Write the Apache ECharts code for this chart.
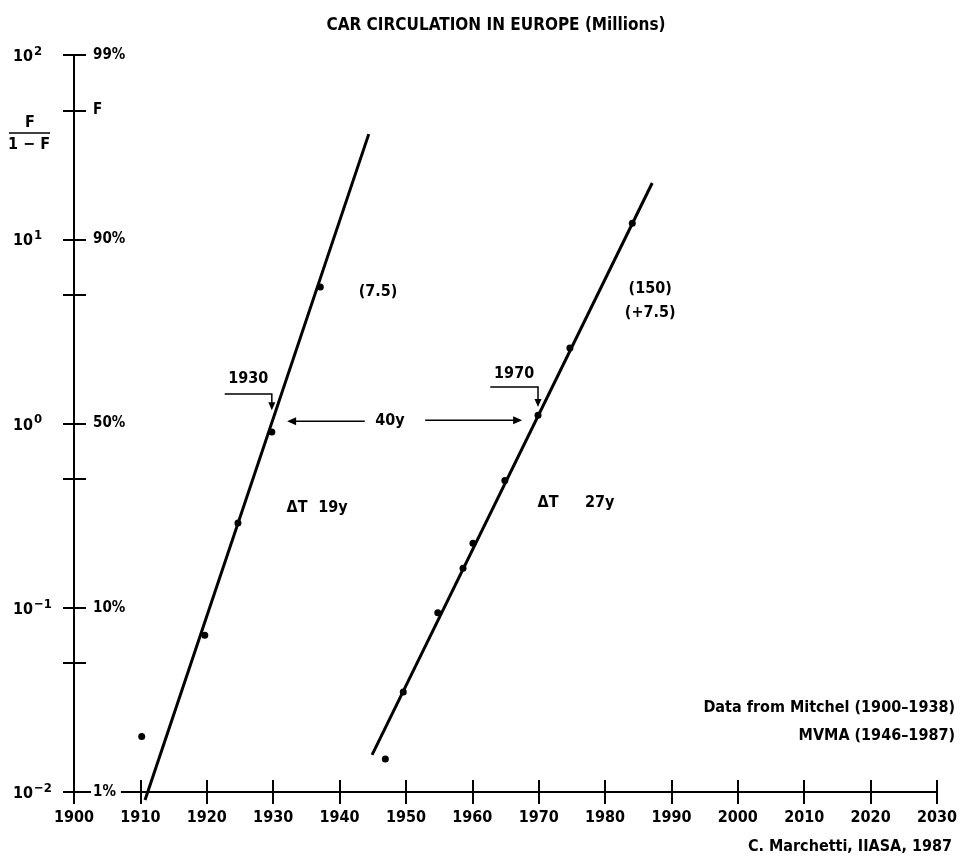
<!DOCTYPE html>
<html><head><meta charset="utf-8">
<script src="https://cdn.jsdelivr.net/npm/echarts@6/dist/echarts.min.js"></script>
<style>html,body{margin:0;padding:0;background:#fff}#c{width:962px;height:864px}</style>
</head><body><div id="c"></div>
<script>
// ---- data ----
const xMin = 1900, xMax = 2030, xStep = 10;
const yTickValues = [0.01, 0.05, 0.1, 0.5, 1, 5, 10, 50, 100];
const leftLabelValues = [0.01, 0.1, 1, 10, 100];
const rightLabelValues = [0.01, 0.1, 1, 10, 50, 100];
const rightLabelTexts = ['1%', '10%', '50%', '90%', 'F', '99%'];

// Europe, first wave (Mitchel 1900-1938)
const earlyYears = [1910.2, 1919.7, 1924.7, 1929.8, 1937.1];
const earlyValues = [0.020, 0.071, 0.288, 0.90, 5.5];
// Europe, second wave (MVMA 1946-1987)
const lateYears = [1946.9, 1949.6, 1954.8, 1958.6, 1960.1, 1964.9, 1969.9, 1974.7, 1984.1];
const lateValues = [0.0151, 0.0349, 0.094, 0.164, 0.224, 0.49, 1.11, 2.57, 12.2];

// Fitted logistic (straight lines in Fisher-Pry transform)
const fitEarlyYears = [1910.7, 1944.4];
const fitEarlyValues = [0.00906, 37.2];
const fitLateYears = [1944.9, 1987.1];
const fitLateValues = [0.0159, 20.2];

const FONT = "'Liberation Sans Narrow', 'DejaVu Sans Condensed', 'Liberation Sans', Arial, sans-serif";

const zip = (a, b) => a.map((v, i) => [v, b[i]]);

const chart = echarts.init(document.getElementById('c'), null, {renderer: 'canvas'});

const axisLineStyle = {color: '#000', width: 2};
const option = {
  backgroundColor: '#fff',
  animation: false,
  title: {
    text: 'CAR CIRCULATION IN EUROPE (Millions)',
    left: 491, top: 12, textAlign: 'center',
    textStyle: {fontFamily: FONT, fontWeight: 'bold', fontSize: 17, color: '#000'}
  },
  grid: {left: 74, right: 25, top: 55, bottom: 72, containLabel: false},
  xAxis: [
    {
      type: 'value', min: xMin, max: xMax, interval: xStep, position: 'bottom',
      axisLine: {show: true, lineStyle: axisLineStyle},
      axisTick: {show: true, length: 12, lineStyle: {color: '#000', width: 2}},
      axisLabel: {margin: 18, color: '#000', fontFamily: FONT, fontWeight: 'bold', fontSize: 16,
        formatter: v => String(v)},
      splitLine: {show: false}
    },
    {
      type: 'value', min: xMin, max: xMax, interval: xStep, position: 'bottom',
      axisLine: {show: false},
      axisTick: {show: true, inside: true, length: 12, lineStyle: {color: '#000', width: 2}},
      axisLabel: {show: false},
      splitLine: {show: false}
    }
  ],
  yAxis: [
    {
      type: 'log', logBase: 10, min: 0.01, max: 100, position: 'left',
      axisLine: {show: true, lineStyle: axisLineStyle},
      axisTick: {show: true, length: 11, customValues: yTickValues, lineStyle: {color: '#000', width: 2}},
      axisLabel: {
        customValues: leftLabelValues, margin: 61, align: 'left', color: '#000',
        formatter: v => '{b|10}{s|' + String(Math.round(Math.log10(v))).replace('-', '\u2212') + '}',
        rich: {
          b: {fontFamily: FONT, fontWeight: 'bold', fontSize: 16, color: '#000', verticalAlign: 'bottom', lineHeight: 20},
          s: {fontFamily: FONT, fontWeight: 'bold', fontSize: 13, color: '#000', verticalAlign: 'top', lineHeight: 20, padding: [0, 0, 7, 1]}
        }
      },
      splitLine: {show: false}
    },
    {
      type: 'log', logBase: 10, min: 0.01, max: 100, position: 'left', z: 5,
      axisLine: {show: false},
      axisTick: {show: true, inside: true, length: 12, customValues: yTickValues, lineStyle: {color: '#000', width: 2}},
      axisLabel: {
        inside: true, customValues: rightLabelValues, margin: 17, color: '#000',
        fontFamily: FONT, fontWeight: 'bold', fontSize: 15,
        backgroundColor: '#fff', padding: [2, 5, 2, 2],
        formatter: v => {
          const i = rightLabelValues.findIndex(r => Math.abs(Math.log10(r) - Math.log10(v)) < 1e-6);
          return i >= 0 ? rightLabelTexts[i] : '';
        }
      },
      splitLine: {show: false}
    }
  ],
  series: [
    {type: 'line', data: zip(fitEarlyYears, fitEarlyValues), symbol: 'none', clip: false,
      lineStyle: {color: '#000', width: 3}},
    {type: 'line', data: zip(fitLateYears, fitLateValues), symbol: 'none', clip: false,
      lineStyle: {color: '#000', width: 3}},
    {type: 'scatter', data: zip(earlyYears, earlyValues), symbol: 'circle', symbolSize: 7,
      itemStyle: {color: '#000', opacity: 1}},
    {type: 'scatter', data: zip(lateYears, lateValues), symbol: 'circle', symbolSize: 7,
      itemStyle: {color: '#000', opacity: 1}}
  ]
};
chart.setOption(option);

// ---- annotations, placed in data space ----
const P = (yr, v) => chart.convertToPixel({xAxisIndex: 0, yAxisIndex: 0}, [yr, v]);
const txtStyle = (extra) => Object.assign({fill: '#000', font: 'bold 16px ' + FONT, align: 'center', verticalAlign: 'middle'}, extra || {});
const g = [];
function text(str, yr, v, extra) {
  const p = P(yr, v);
  g.push({type: 'text', x: p[0], y: p[1], style: txtStyle(Object.assign({text: str}, extra || {}))});
}
function arrowH(y0, y1, v) {
  const a = P(y0, v), b = P(y1, v);
  const dir = Math.sign(b[0] - a[0]);
  g.push({type: 'line', shape: {x1: a[0], y1: a[1], x2: b[0] - dir * 6, y2: b[1]}, style: {stroke: '#000', lineWidth: 1.5}});
  g.push({type: 'polygon', shape: {points: [[b[0], b[1]], [b[0] - dir * 9, b[1] - 4], [b[0] - dir * 9, b[1] + 4]]}, style: {fill: '#000'}});
}
function callout(label, xs, xe, vLine, vEnd, vText) {
  const a = P(xs, vLine), b = P(xe, vLine), c = P(xe, vEnd);
  g.push({type: 'polyline', shape: {points: [a, b, [c[0], c[1] - 5]]}, style: {stroke: '#000', lineWidth: 1.5, fill: null}});
  g.push({type: 'polygon', shape: {points: [[c[0], c[1]], [c[0] - 3.5, c[1] - 8], [c[0] + 3.5, c[1] - 8]]}, style: {fill: '#000'}});
  const t = P((xs + xe) / 2, vText);
  g.push({type: 'text', x: t[0], y: t[1], style: txtStyle({text: label})});
}

text('(7.5)', 1945.8, 5.2);
text('(150)', 1986.8, 5.4);
text('(+7.5)', 1986.8, 4.0);
text('\u0394T', 1933.6, 0.35);
text('19y', 1939.0, 0.35);
text('\u0394T', 1971.4, 0.37);
text('27y', 1979.2, 0.37);
text('40y', 1947.6, 1.03);
arrowH(1943.8, 1932.1, 1.03);
arrowH(1952.9, 1967.5, 1.04);
callout('1930', 1922.7, 1929.8, 1.445, 1.18, 1.75);
callout('1970', 1962.7, 1969.9, 1.58, 1.23, 1.85);

// fraction label on the left axis
g.push({type: 'text', x: 30, y: 123, style: txtStyle({text: 'F'})});
g.push({type: 'line', shape: {x1: 9, y1: 133, x2: 50, y2: 133}, style: {stroke: '#000', lineWidth: 1.5}});
g.push({type: 'text', x: 29, y: 145, style: txtStyle({text: '1 \u2212 F'})});

// source notes
g.push({type: 'text', x: 955, y: 708, style: txtStyle({text: 'Data from Mitchel (1900\u20131938)', align: 'right'})});
g.push({type: 'text', x: 955, y: 736, style: txtStyle({text: 'MVMA (1946\u20131987)', align: 'right'})});
g.push({type: 'text', x: 952, y: 847, style: txtStyle({text: 'C. Marchetti, IIASA, 1987', align: 'right'})});

chart.setOption({graphic: g});
</script>
</body></html>
